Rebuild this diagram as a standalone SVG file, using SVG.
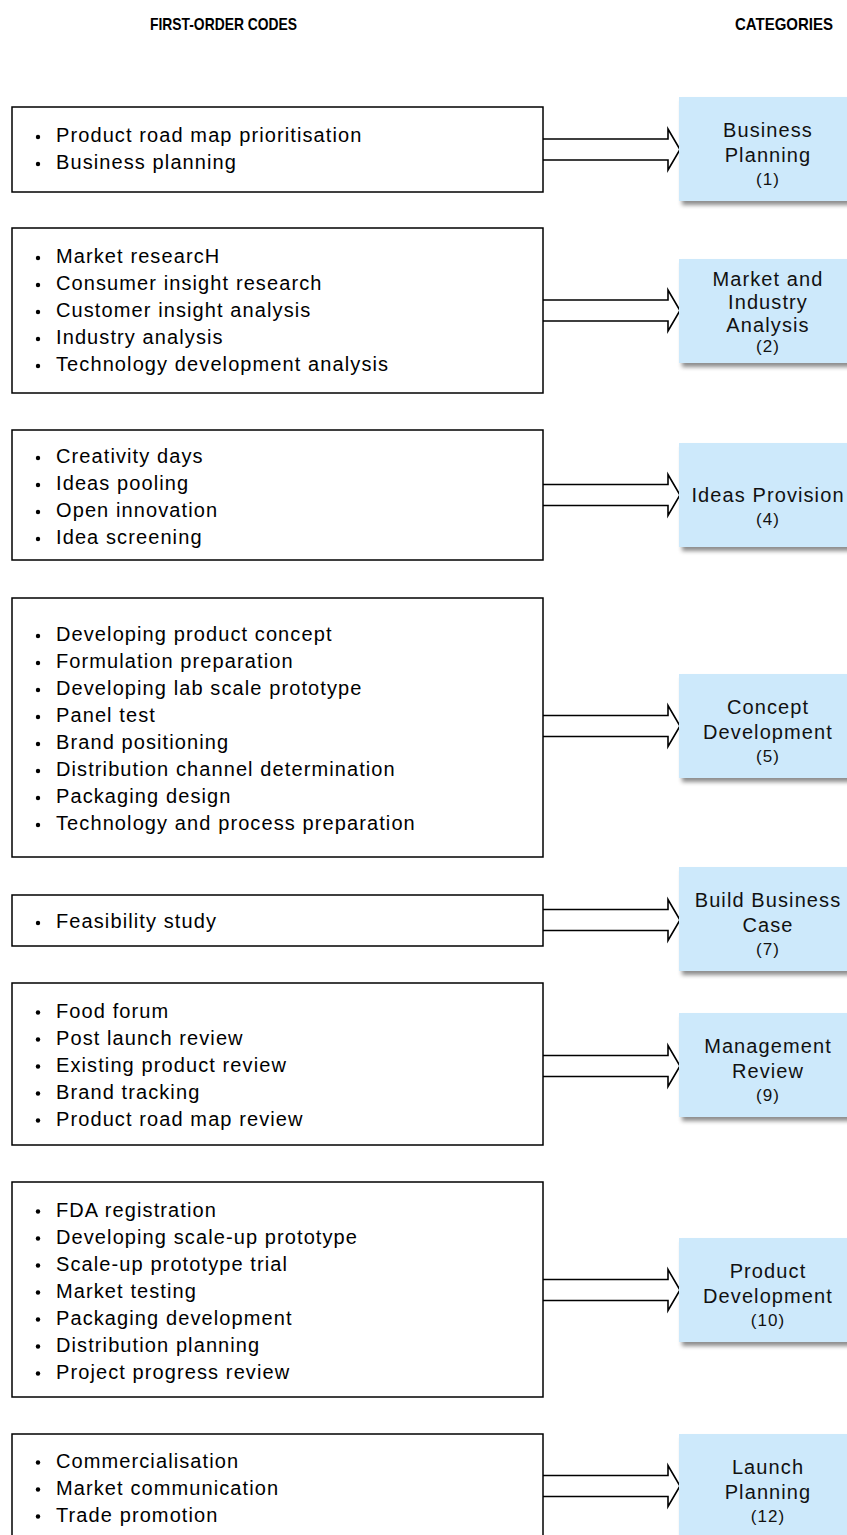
<svg xmlns="http://www.w3.org/2000/svg" width="847" height="1535" viewBox="0 0 847 1535">
  <defs>
    <style>
      .hdr { font-family: "Liberation Sans", Arial, sans-serif; font-size: 17px; font-weight: bold; fill: #000; }
      .codes { fill: #fff; stroke: #000; stroke-width: 1.5; }
      .item { font-family: "Liberation Sans", Arial, sans-serif; font-size: 20px; fill: #000; letter-spacing: 1.1px; }
      .dot { fill: #000; }
      .cat { fill: #cde9fb; filter: url(#shadow); }
      .catlbl { font-family: "Liberation Sans", Arial, sans-serif; font-size: 20px; fill: #111; text-anchor: middle; letter-spacing: 1.1px; }
      .catnum { font-family: "Liberation Sans", Arial, sans-serif; font-size: 17px; fill: #111; text-anchor: middle; letter-spacing: 1.1px; }
      .arrow { fill: #fff; stroke: #000; stroke-width: 1.6; stroke-linejoin: miter; }
    </style>
    <filter id="shadow" x="-10%" y="-10%" width="130%" height="130%">
      <feDropShadow dx="3" dy="4" stdDeviation="2.2" flood-color="#000" flood-opacity="0.45"/>
    </filter>
    <!-- block arrow pointing right, origin at the middle of its tail -->
    <path id="blockArrow" class="arrow" d="M0,-10.5 H125 V-20.5 L137,0 L125,20.5 V10.5 H0"/>
  </defs>

  <rect width="847" height="1535" fill="#fff"/>

  <!-- column headings -->
  <text class="hdr" x="150" y="30" textLength="147" lengthAdjust="spacingAndGlyphs">FIRST-ORDER CODES</text>
  <text class="hdr" x="833" y="30" text-anchor="end" textLength="98" lengthAdjust="spacingAndGlyphs">CATEGORIES</text>

  <!-- connectors: block arrows from code boxes to categories -->
  <g id="connectors">
    <use href="#blockArrow" x="543" y="149.5"/>
    <use href="#blockArrow" x="543" y="310.5"/>
    <use href="#blockArrow" x="543" y="495"/>
    <use href="#blockArrow" x="543" y="726"/>
    <use href="#blockArrow" x="543" y="920"/>
    <use href="#blockArrow" x="543" y="1066"/>
    <use href="#blockArrow" x="543" y="1290"/>
    <use href="#blockArrow" x="543" y="1486"/>
  </g>

  <!-- first-order code boxes -->
  <g id="codes-business-planning">
    <rect class="codes" x="12" y="107" width="531" height="85"/>
    <circle class="dot" cx="38" cy="137" r="2.2"/><text class="item" x="56" y="142">Product road map prioritisation</text>
    <circle class="dot" cx="38" cy="164" r="2.2"/><text class="item" x="56" y="169">Business planning</text>
  </g>

  <g id="codes-market-industry">
    <rect class="codes" x="12" y="228" width="531" height="165"/>
    <circle class="dot" cx="38" cy="258" r="2.2"/><text class="item" x="56" y="263">Market researcH</text>
    <circle class="dot" cx="38" cy="285" r="2.2"/><text class="item" x="56" y="290">Consumer insight research</text>
    <circle class="dot" cx="38" cy="312" r="2.2"/><text class="item" x="56" y="317">Customer insight analysis</text>
    <circle class="dot" cx="38" cy="339" r="2.2"/><text class="item" x="56" y="344">Industry analysis</text>
    <circle class="dot" cx="38" cy="366" r="2.2"/><text class="item" x="56" y="371">Technology development analysis</text>
  </g>

  <g id="codes-ideas">
    <rect class="codes" x="12" y="430" width="531" height="130"/>
    <circle class="dot" cx="38" cy="458" r="2.2"/><text class="item" x="56" y="463">Creativity days</text>
    <circle class="dot" cx="38" cy="485" r="2.2"/><text class="item" x="56" y="490">Ideas pooling</text>
    <circle class="dot" cx="38" cy="512" r="2.2"/><text class="item" x="56" y="517">Open innovation</text>
    <circle class="dot" cx="38" cy="539" r="2.2"/><text class="item" x="56" y="544">Idea screening</text>
  </g>

  <g id="codes-concept">
    <rect class="codes" x="12" y="598" width="531" height="259"/>
    <circle class="dot" cx="38" cy="636" r="2.2"/><text class="item" x="56" y="641">Developing product concept</text>
    <circle class="dot" cx="38" cy="663" r="2.2"/><text class="item" x="56" y="668">Formulation preparation</text>
    <circle class="dot" cx="38" cy="690" r="2.2"/><text class="item" x="56" y="695">Developing lab scale prototype</text>
    <circle class="dot" cx="38" cy="717" r="2.2"/><text class="item" x="56" y="722">Panel test</text>
    <circle class="dot" cx="38" cy="744" r="2.2"/><text class="item" x="56" y="749">Brand positioning</text>
    <circle class="dot" cx="38" cy="771" r="2.2"/><text class="item" x="56" y="776">Distribution channel determination</text>
    <circle class="dot" cx="38" cy="798" r="2.2"/><text class="item" x="56" y="803">Packaging design</text>
    <circle class="dot" cx="38" cy="825" r="2.2"/><text class="item" x="56" y="830">Technology and process preparation</text>
  </g>

  <g id="codes-business-case">
    <rect class="codes" x="12" y="895" width="531" height="51"/>
    <circle class="dot" cx="38" cy="923" r="2.2"/><text class="item" x="56" y="928">Feasibility study</text>
  </g>

  <g id="codes-management">
    <rect class="codes" x="12" y="983" width="531" height="162"/>
    <circle class="dot" cx="38" cy="1012.5" r="2.2"/><text class="item" x="56" y="1017.5">Food forum</text>
    <circle class="dot" cx="38" cy="1039.5" r="2.2"/><text class="item" x="56" y="1044.5">Post launch review</text>
    <circle class="dot" cx="38" cy="1066.5" r="2.2"/><text class="item" x="56" y="1071.5">Existing product review</text>
    <circle class="dot" cx="38" cy="1093.5" r="2.2"/><text class="item" x="56" y="1098.5">Brand tracking</text>
    <circle class="dot" cx="38" cy="1120.5" r="2.2"/><text class="item" x="56" y="1125.5">Product road map review</text>
  </g>

  <g id="codes-product-dev">
    <rect class="codes" x="12" y="1182" width="531" height="215"/>
    <circle class="dot" cx="38" cy="1211.5" r="2.2"/><text class="item" x="56" y="1216.5">FDA registration</text>
    <circle class="dot" cx="38" cy="1238.5" r="2.2"/><text class="item" x="56" y="1243.5">Developing scale-up prototype</text>
    <circle class="dot" cx="38" cy="1265.5" r="2.2"/><text class="item" x="56" y="1270.5">Scale-up prototype trial</text>
    <circle class="dot" cx="38" cy="1292.5" r="2.2"/><text class="item" x="56" y="1297.5">Market testing</text>
    <circle class="dot" cx="38" cy="1319.5" r="2.2"/><text class="item" x="56" y="1324.5">Packaging development</text>
    <circle class="dot" cx="38" cy="1346.5" r="2.2"/><text class="item" x="56" y="1351.5">Distribution planning</text>
    <circle class="dot" cx="38" cy="1373.5" r="2.2"/><text class="item" x="56" y="1378.5">Project progress review</text>
  </g>

  <g id="codes-launch">
    <rect class="codes" x="12" y="1434" width="531" height="110"/>
    <circle class="dot" cx="38" cy="1462.5" r="2.2"/><text class="item" x="56" y="1467.5">Commercialisation</text>
    <circle class="dot" cx="38" cy="1489.5" r="2.2"/><text class="item" x="56" y="1494.5">Market communication</text>
    <circle class="dot" cx="38" cy="1516.5" r="2.2"/><text class="item" x="56" y="1521.5">Trade promotion</text>
  </g>

  <!-- category boxes -->
  <g id="cat-business-planning">
    <rect class="cat" x="679" y="97" width="176" height="104"/>
    <text class="catlbl" x="768" y="136.5">Business</text>
    <text class="catlbl" x="768" y="162">Planning</text>
    <text class="catnum" x="768" y="185">(1)</text>
  </g>

  <g id="cat-market-industry">
    <rect class="cat" x="679" y="259" width="176" height="104"/>
    <text class="catlbl" x="768" y="286">Market and</text>
    <text class="catlbl" x="768" y="309">Industry</text>
    <text class="catlbl" x="768" y="331.5">Analysis</text>
    <text class="catnum" x="768" y="351.5">(2)</text>
  </g>

  <g id="cat-ideas">
    <rect class="cat" x="679" y="443" width="176" height="104"/>
    <text class="catlbl" x="768" y="502">Ideas Provision</text>
    <text class="catnum" x="768" y="524.5">(4)</text>
  </g>

  <g id="cat-concept">
    <rect class="cat" x="679" y="674" width="176" height="104"/>
    <text class="catlbl" x="768" y="713.5">Concept</text>
    <text class="catlbl" x="768" y="739">Development</text>
    <text class="catnum" x="768" y="762">(5)</text>
  </g>

  <g id="cat-business-case">
    <rect class="cat" x="679" y="867" width="176" height="104"/>
    <text class="catlbl" x="768" y="906.5">Build Business</text>
    <text class="catlbl" x="768" y="932">Case</text>
    <text class="catnum" x="768" y="955">(7)</text>
  </g>

  <g id="cat-management">
    <rect class="cat" x="679" y="1013" width="176" height="104"/>
    <text class="catlbl" x="768" y="1052.5">Management</text>
    <text class="catlbl" x="768" y="1078">Review</text>
    <text class="catnum" x="768" y="1101">(9)</text>
  </g>

  <g id="cat-product-dev">
    <rect class="cat" x="679" y="1238" width="176" height="104"/>
    <text class="catlbl" x="768" y="1277.5">Product</text>
    <text class="catlbl" x="768" y="1303">Development</text>
    <text class="catnum" x="768" y="1326">(10)</text>
  </g>

  <g id="cat-launch">
    <rect class="cat" x="679" y="1434" width="176" height="104"/>
    <text class="catlbl" x="768" y="1473.5">Launch</text>
    <text class="catlbl" x="768" y="1499">Planning</text>
    <text class="catnum" x="768" y="1522">(12)</text>
  </g>
</svg>
